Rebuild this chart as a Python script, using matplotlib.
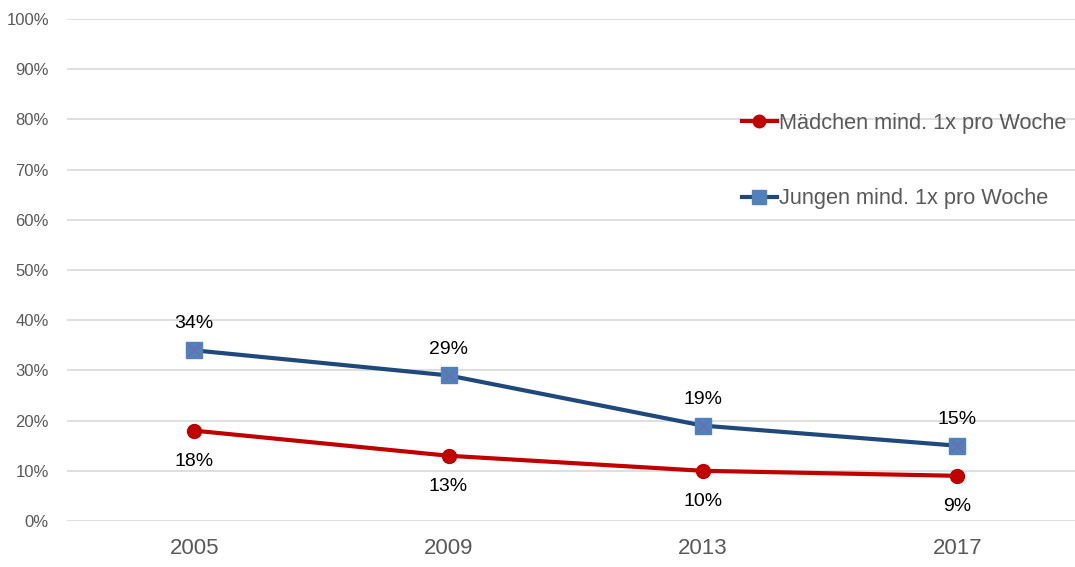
import numpy as np
import matplotlib.pyplot as plt

plt.rcParams['font.family'] = ['Liberation Sans', 'DejaVu Sans']

# Daten
jahre = ["2005", "2009", "2013", "2017"]
maedchen = [18, 13, 10, 9]
jungen = [34, 29, 19, 15]
label_maedchen = "Mädchen mind. 1x pro Woche"
label_jungen = "Jungen mind. 1x pro Woche"

rot = "#c00000"
blau = "#1f497d"
blau_marker = "#4f81bd"

fig = plt.figure(figsize=(10.75, 5.67), dpi=100)
ax = fig.add_axes([67 / 1075, 46 / 567, 1008 / 1075, 502 / 567])

x = np.arange(len(jahre))

(l_m,) = ax.plot(x, maedchen, color=rot, lw=3, marker="o", ms=10,
                 mfc=rot, mec=rot, zorder=3, label=label_maedchen)
(l_j,) = ax.plot(x, jungen, color=blau, lw=3, marker="s", ms=11,
                 mfc=blau_marker, mec=blau_marker, zorder=3, label=label_jungen)
# kleines Kreuz im Quadrat
ax.plot(x, jungen, ls="none", marker="x", ms=9, mew=0.8, color="#8064a2", zorder=4)

for xi, v in zip(x, jungen):
    ax.annotate(f"{v}%", (xi, v), xytext=(0, 19), textcoords="offset points",
                ha="center", va="center", fontsize=14, color="black")
for xi, v in zip(x, maedchen):
    ax.annotate(f"{v}%", (xi, v), xytext=(0, -22), textcoords="offset points",
                ha="center", va="center", fontsize=14, color="black")

ax.set_xlim(-0.5, 3.463)
ax.set_ylim(0, 100)
ax.set_yticks(range(0, 101, 10))
ax.set_yticklabels([f"{t}%" for t in range(0, 101, 10)])
ax.set_xticks(x)
ax.set_xticklabels(jahre)
ax.tick_params(axis="y", length=0, pad=13, labelsize=12, labelcolor="#595959")
ax.tick_params(axis="x", length=0, pad=12, labelsize=16, labelcolor="#595959")
ax.grid(axis="y", color="#d9d9d9", lw=1.2)
ax.set_axisbelow(True)
for s in ax.spines.values():
    s.set_visible(False)

fig.legend(handles=[l_m, l_j], loc="center left",
           bbox_to_anchor=(722 / 1075, 1 - 161 / 567), frameon=False,
           fontsize=15.7, labelcolor="#595959", handlelength=1.6,
           handletextpad=0.1, labelspacing=2.5, markerscale=0.9)

fig.savefig("out.png", dpi=100)
